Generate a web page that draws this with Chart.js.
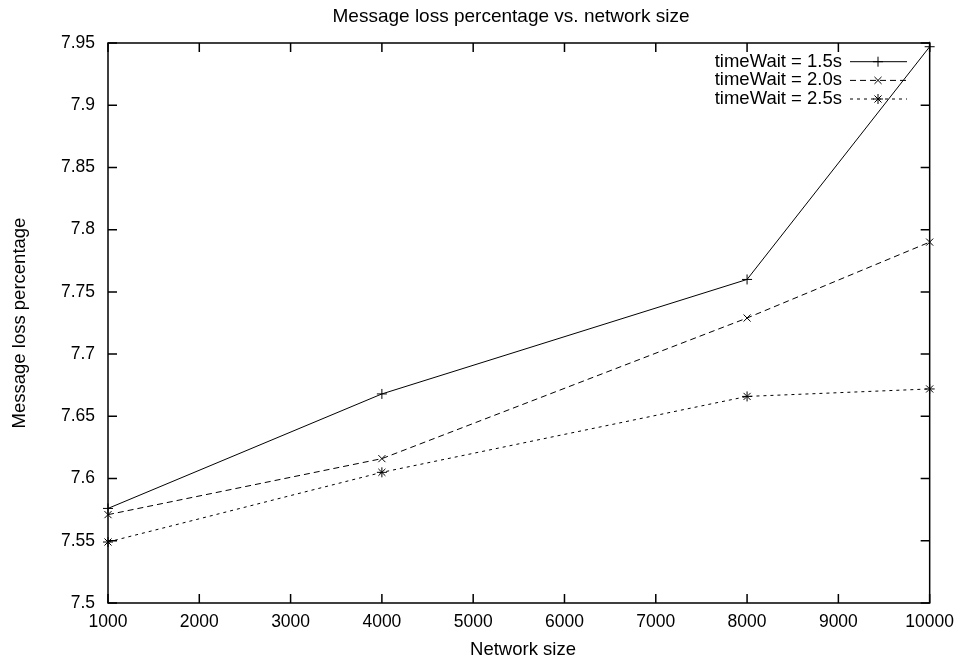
<!DOCTYPE html>
<html>
<head>
<meta charset="utf-8">
<script src="https://cdn.jsdelivr.net/npm/chart.js@4/dist/chart.umd.min.js"></script>
<style>
  html, body { margin: 0; padding: 0; background: #fff; }
  #wrap { width: 963px; height: 665px; }
</style>
</head>
<body>
<div id="wrap"><canvas id="lossChart"></canvas></div>
<script>
const networkSizes = [1000, 4000, 8000, 10000];
const wait15 = [7.576, 7.668, 7.760, 7.947];
const wait20 = [7.571, 7.616, 7.729, 7.790];
const wait25 = [7.549, 7.605, 7.666, 7.672];
const seriesNames = ['timeWait = 1.5s', 'timeWait = 2.0s', 'timeWait = 2.5s'];
const xTicks = [1000, 2000, 3000, 4000, 5000, 6000, 7000, 8000, 9000, 10000];
const yTicks = [7.5, 7.55, 7.6, 7.65, 7.7, 7.75, 7.8, 7.85, 7.9, 7.95];

const FONT = '"Liberation Sans", Arial, Helvetica, sans-serif';

function toPoints(vals) {
    return networkSizes.map(function (x, i) { return { x: x, y: vals[i] }; });
}

const styles = [
    { dash: [], point: 'cross' },
    { dash: [6, 4], point: 'crossRot' },
    { dash: [3, 4], point: 'star' }
];

// gnuplot-like frame: box border, inward ticks on all sides, title, labels, legend
const gnuplotFrame = {
    id: 'gnuplotFrame',
    afterDraw: function (chart) {
        const ctx = chart.ctx;
        const a = chart.chartArea;
        const xs = chart.scales.x, ys = chart.scales.y;
        ctx.save();
        ctx.strokeStyle = '#000';
        ctx.lineWidth = 1.5;
        ctx.strokeRect(a.left, a.top, a.right - a.left, a.bottom - a.top);

        const tl = 9;
        ctx.beginPath();
        xTicks.forEach(function (v) {
            const px = xs.getPixelForValue(v);
            ctx.moveTo(px, a.bottom); ctx.lineTo(px, a.bottom - tl);
            ctx.moveTo(px, a.top); ctx.lineTo(px, a.top + tl);
        });
        yTicks.forEach(function (v) {
            const py = ys.getPixelForValue(v);
            ctx.moveTo(a.left, py); ctx.lineTo(a.left + tl, py);
            ctx.moveTo(a.right, py); ctx.lineTo(a.right - tl, py);
        });
        ctx.stroke();

        ctx.fillStyle = '#000';
        ctx.font = '19px ' + FONT;
        ctx.textAlign = 'center';
        ctx.textBaseline = 'middle';
        ctx.fillText('Message loss percentage vs. network size', 511, 17);
        ctx.font = '18.5px ' + FONT;
        ctx.fillText('Network size', 523, 650);

        ctx.save();
        ctx.translate(20, 323);
        ctx.rotate(-Math.PI / 2);
        ctx.fillText('Message loss percentage', 0, 0);
        ctx.restore();

        // legend
        const rows = [61.7, 80.4, 99];
        chart.data.datasets.forEach(function (ds, i) {
            const y = rows[i];
            ctx.textAlign = 'right';
            ctx.fillText(ds.label, 842, y);
            ctx.lineWidth = 1;
            ctx.setLineDash(ds.borderDash || []);
            ctx.beginPath();
            ctx.moveTo(850, y); ctx.lineTo(907, y);
            ctx.stroke();
            ctx.setLineDash([]);
            Chart.helpers.drawPoint(ctx, {
                pointStyle: ds.pointStyle, radius: 5, rotation: 0, borderWidth: 1
            }, 878, y);
        });
        ctx.restore();
    }
};

const datasets = [wait15, wait20, wait25].map(function (vals, i) {
    return {
        label: seriesNames[i],
        data: toPoints(vals),
        borderColor: '#000',
        backgroundColor: '#000',
        borderWidth: 1,
        borderDash: styles[i].dash,
        pointStyle: styles[i].point,
        pointRadius: 5,
        pointBorderWidth: 1,
        pointBorderColor: '#000',
        tension: 0,
        clip: false
    };
});

new Chart(document.getElementById('lossChart'), {
    type: 'line',
    data: { datasets: datasets },
    options: {
        responsive: true,
        maintainAspectRatio: false,
        animation: false,
        layout: { padding: { top: 43, right: 33, left: 0, bottom: 0 } },
        plugins: {
            legend: { display: false },
            title: { display: false },
            tooltip: { enabled: false }
        },
        scales: {
            x: {
                type: 'linear',
                min: 1000,
                max: 10000,
                afterFit: function (s) { s.height = 62; },
                afterBuildTicks: function (s) { s.ticks = xTicks.map(function (v) { return { value: v }; }); },
                grid: { display: false, drawTicks: false },
                border: { display: false },
                ticks: {
                    padding: 9,
                    color: '#000',
                    maxRotation: 0,
                    font: { family: FONT, size: 17.5 },
                    callback: function (v) { return String(v); }
                }
            },
            y: {
                type: 'linear',
                min: 7.5,
                max: 7.95,
                afterFit: function (s) { s.width = 108; },
                afterBuildTicks: function (s) { s.ticks = yTicks.map(function (v) { return { value: v }; }); },
                grid: { display: false, drawTicks: false },
                border: { display: false },
                ticks: {
                    padding: 13,
                    color: '#000',
                    font: { family: FONT, size: 17.5 },
                    callback: function (v) { return String(Number(v.toFixed(2))); }
                }
            }
        }
    },
    plugins: [gnuplotFrame]
});
</script>
</body>
</html>
